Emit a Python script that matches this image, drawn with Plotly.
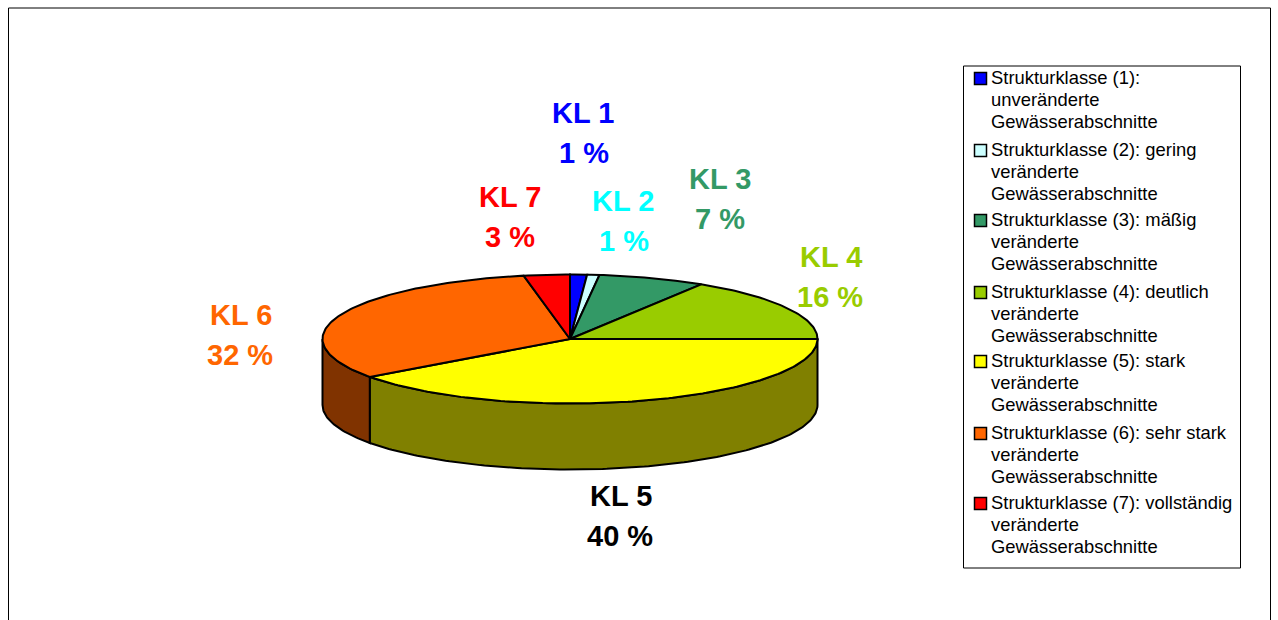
import numpy as np
import plotly.graph_objects as go

categories = ["KL 1", "KL 2", "KL 3", "KL 4", "KL 5", "KL 6", "KL 7"]
values = [1.1, 0.8, 7.0, 16.1, 40.0, 32.0, 3.0]
percent_labels = ["1 %", "1 %", "7 %", "16 %", "40 %", "32 %", "3 %"]
legend_labels = [
    ["Strukturklasse (1):", "unveränderte", "Gewässerabschnitte"],
    ["Strukturklasse (2): gering", "veränderte", "Gewässerabschnitte"],
    ["Strukturklasse (3): mäßig", "veränderte", "Gewässerabschnitte"],
    ["Strukturklasse (4): deutlich", "veränderte", "Gewässerabschnitte"],
    ["Strukturklasse (5): stark", "veränderte", "Gewässerabschnitte"],
    ["Strukturklasse (6): sehr stark", "veränderte", "Gewässerabschnitte"],
    ["Strukturklasse (7): vollständig", "veränderte", "Gewässerabschnitte"],
]
colors = ["#0000FF", "#CCFFFF", "#339966", "#99CC00", "#FFFF00", "#FF6600", "#FF0000"]
side_colors = ["#000080", "#668080", "#1A4D33", "#4D6600", "#808000", "#803300", "#800000"]
label_colors = ["#0000FF", "#00FFFF", "#339966", "#99CC00", "#000000", "#FF6600", "#FF0000"]
label_pos = [(583, 113), (623, 201), (720, 179), (831, 257), (621, 496), (241, 315), (510, 197)]
percent_x = [584, 624, 720, 830, 620, 240, 510]
legend_y = [78, 150, 220, 292, 361, 433, 503]

CX, CY, RX, RY, DEPTH = 570, 339, 247.5, 64.5, 66
FONT = "Liberation Sans, Arial, sans-serif"


def arc(a0, a1, dy=0):
    t = np.radians(np.linspace(a0, a1, max(int(abs(a1 - a0)) + 2, 2)))
    return CX + RX * np.sin(t), CY - RY * np.cos(t) + dy


edges = np.concatenate([[0], np.cumsum(values)]) / np.sum(values) * 360
fig = go.Figure()

# side walls: only the front half of the rim (90..270 degrees) is visible
for a0, a1, c in zip(edges[:-1], edges[1:], side_colors):
    lo, hi = max(a0, 90), min(a1, 270)
    if hi <= lo:
        continue
    xt, yt = arc(lo, hi)
    xb, yb = arc(hi, lo, DEPTH)
    fig.add_trace(go.Scatter(
        x=np.r_[xt, xb, xt[0]], y=np.r_[yt, yb, yt[0]], mode="lines", fill="toself",
        fillcolor=c, line=dict(color="black", width=2), hoverinfo="skip", showlegend=False))

# top face
for name, v, a0, a1, c in zip(categories, values, edges[:-1], edges[1:], colors):
    xa, ya = arc(a0, a1)
    fig.add_trace(go.Scatter(
        x=np.r_[CX, xa, CX], y=np.r_[CY, ya, CY], mode="lines", fill="toself",
        fillcolor=c, line=dict(color="black", width=2), name=name, hoverinfo="name", showlegend=False))

annotations = []
for cat, pct, (x, y), px, c in zip(categories, percent_labels, label_pos, percent_x, label_colors):
    for text, xx, yy in ((cat, x, y), (pct, px, y + 40)):
        annotations.append(dict(x=xx, y=yy, text=f"<b>{text}</b>", showarrow=False,
                                font=dict(family=FONT, size=29, color=c),
                                xanchor="center", yanchor="middle"))

shapes = [
    # outer frame (its bottom edge lies below the visible page)
    dict(type="rect", xref="x", yref="y", x0=8.5, x1=1270.5, y0=8, y1=640,
         line=dict(color="black", width=1), fillcolor="rgba(0,0,0,0)", layer="below"),
    # legend box
    dict(type="rect", xref="x", yref="y", x0=963.5, x1=1240.5, y0=66, y1=568,
         line=dict(color="black", width=1), fillcolor="white", layer="below"),
]
for lines, c, y0 in zip(legend_labels, colors, legend_y):
    shapes.append(dict(type="rect", xref="x", yref="y", x0=974.5, x1=986.5, y0=y0 - 5.5, y1=y0 + 6.5,
                       line=dict(color="black", width=1.5), fillcolor=c))
    for j, line in enumerate(lines):
        annotations.append(dict(x=991, y=y0 - 1 + 22 * j, text=line, showarrow=False,
                                font=dict(family=FONT, size=18.4, color="black"),
                                xanchor="left", yanchor="middle", xshift=-2))

fig.update_layout(
    width=1278, height=620, margin=dict(l=0, r=0, t=0, b=0),
    paper_bgcolor="white", plot_bgcolor="white", showlegend=False,
    xaxis=dict(range=[0, 1278], visible=False, fixedrange=True),
    yaxis=dict(range=[620, 0], visible=False, fixedrange=True),
    shapes=shapes, annotations=annotations,
)
fig.write_html("out.html", post_script="document.body.style.margin='0';document.body.style.overflow='hidden';",
               config=dict(displayModeBar=False))
